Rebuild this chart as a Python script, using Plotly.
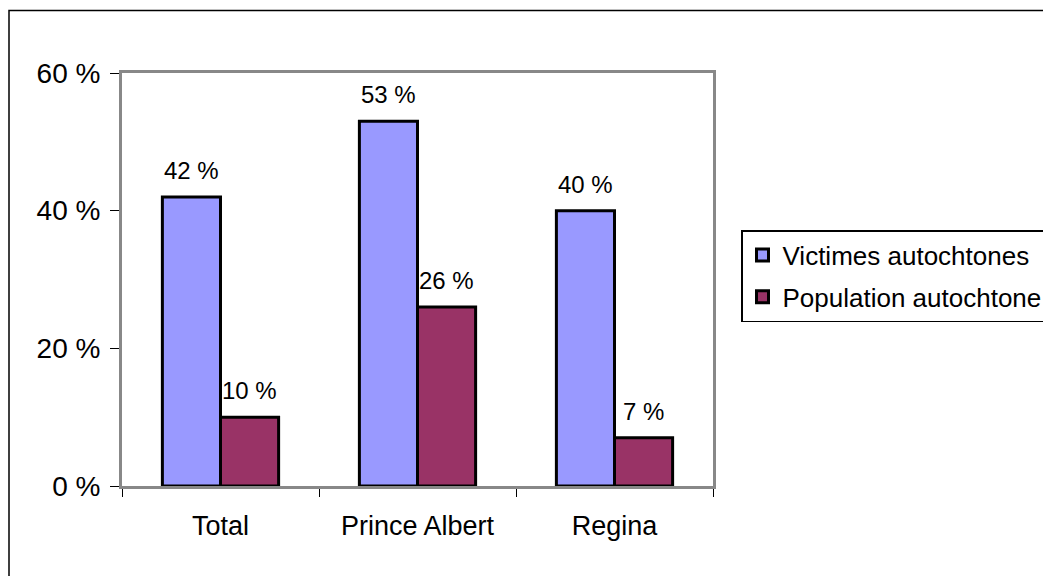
import plotly.graph_objects as go

categories = ["Total", "Prince Albert", "Regina"]
victimes = [42, 53, 40]
population = [10, 26, 7]
series_names = ["Victimes autochtones", "Population autochtone"]
y_ticks = [0, 20, 40, 60]
y_tick_labels = ["0 %", "20 %", "40 %", "60 %"]

FONT = "Liberation Sans, Arial, sans-serif"
# page body has an 8px margin; figure coordinates = page coordinates - 8
OFF = 8
W, H = 1051 - 2 * OFF, 584 - 2 * OFF
L, T = 122 - OFF, 73 - OFF
R = W - (713 - OFF)
B = H - (486 - OFF)
pw, ph = W - L - R, H - T - B

colors = ["#9999FF", "#993366"]
fig = go.Figure()
for name, vals, col, grp in [(series_names[0], victimes, colors[0], "a"),
                             (series_names[1], population, colors[1], "b")]:
    fig.add_trace(go.Bar(
        x=categories, y=vals, name=name,
        marker=dict(color=col, line=dict(color="black", width=3)),
        legendgroup=grp,
    ))

half_bar = pw / 3 * (1 - 0.41) / 4
annotations = []
for vals, sh in [(victimes, -half_bar), (population, half_bar)]:
    for c, v in zip(categories, vals):
        annotations.append(dict(
            x=c, y=v, xref="x", yref="y", text=f"{v} %", showarrow=False,
            xanchor="center", yanchor="bottom", xshift=sh, yshift=11,
            font=dict(size=24, color="black", family=FONT),
        ))

def px(x):
    return (x - OFF - L) / pw

def py(y):
    return (H - B - (y - OFF)) / ph

fig.update_layout(
    width=W, height=H,
    margin=dict(l=L, r=R, t=T, b=B, pad=0, autoexpand=False),
    paper_bgcolor="white", plot_bgcolor="white",
    barmode="group", bargap=0.41, bargroupgap=0,
    font=dict(family=FONT, size=27, color="black"),
    showlegend=True,
    legend=dict(
        xref="container", yref="container",
        x=(741 - OFF) / W, y=1 - (230 - OFF) / H, xanchor="left", yanchor="top",
        bordercolor="black", borderwidth=1.5, bgcolor="white",
        font=dict(size=26, family=FONT, color="black"),
        traceorder="grouped", tracegroupgap=5, itemwidth=30,
    ),
    xaxis=dict(
        showline=True, linecolor="#888888", linewidth=3, mirror=True,
        ticks="outside", tickson="boundaries", ticklen=8, tickcolor="black",
        tickwidth=1, tickfont=dict(size=27), showgrid=False,
        ticklabelstandoff=14,
    ),
    yaxis=dict(
        range=[0, 60], tickvals=y_ticks, ticktext=y_tick_labels,
        showline=True, linecolor="#888888", linewidth=3, mirror=True,
        ticks="outside", ticklen=9, tickcolor="black", tickwidth=1,
        tickfont=dict(size=28), showgrid=False, zeroline=False,
        ticklabelstandoff=4,
    ),
    annotations=annotations,
    shapes=[dict(
        type="rect", xref="paper", yref="paper",
        x0=px(9), x1=px(1080), y0=py(10.5), y1=py(620),
        line=dict(color="black", width=1.5), fillcolor="rgba(0,0,0,0)",
        layer="below",
    )],
)

fig.write_html("out.html")
